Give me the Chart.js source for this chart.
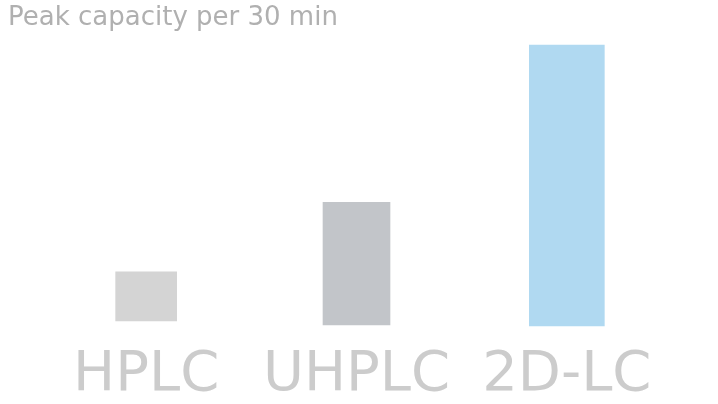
<!DOCTYPE html>
<html>
<head>
<meta charset="utf-8">
<script src="https://cdn.jsdelivr.net/npm/chart.js@4/dist/chart.umd.min.js"></script>
<style>
  html, body { margin: 0; padding: 0; background: #fff; }
  #wrap { width: 718px; height: 404px; }
</style>
</head>
<body>
<div id="wrap"><canvas id="peakChart"></canvas></div>
<script>
// peak capacity per 30 min, one bar per technique
const techniques = ['HPLC', 'UHPLC', '2D-LC'];
const peakCapacity = [200, 500, 1145];
const barBases = [16, 0, -4];
const barColors = ['#d4d4d4', '#c2c5c9', '#b0d9f1'];
const barWidths = [61, 67, 75];

// one dataset per bar so each can keep its own width
const datasets = techniques.map((name, i) => ({
  label: name,
  data: techniques.map((_, j) => j === i ? [barBases[i], barBases[i] + peakCapacity[i]] : null),
  backgroundColor: barColors[i],
  borderWidth: 0,
  barThickness: barWidths[i],
  grouped: false,
  skipNull: true
}));

const ctx = document.getElementById('peakChart');
new Chart(ctx, {
  type: 'bar',
  data: { labels: techniques, datasets: datasets },
  options: {
    responsive: true,
    maintainAspectRatio: false,
    animation: false,
    // negative bottom padding pushes the big category labels lower
    layout: { padding: { left: 8, right: 46, top: 0, bottom: -18 } },
    plugins: {
      legend: { display: false },
      tooltip: { enabled: false },
      title: {
        display: true,
        text: 'Peak capacity per 30 min',
        align: 'start',
        color: '#b0b0b0',
        font: { family: 'DejaVu Sans', size: 26, weight: 'normal' },
        padding: { top: 3, bottom: 5 }
      }
    },
    scales: {
      x: {
        grid: { display: false, drawTicks: false },
        border: { display: false },
        ticks: {
          color: '#cccccc',
          font: { family: 'DejaVu Sans', size: 56, lineHeight: 0.825 },
          padding: 23,
          maxRotation: 0,
          autoSkip: false
        }
      },
      y: {
        min: -20,
        max: 1165,
        grid: { display: false, drawTicks: false },
        border: { display: false },
        ticks: { display: false },
        afterFit: function (scale) {
          scale.width = 33;
        }
      }
    }
  }
});
</script>
</body>
</html>
